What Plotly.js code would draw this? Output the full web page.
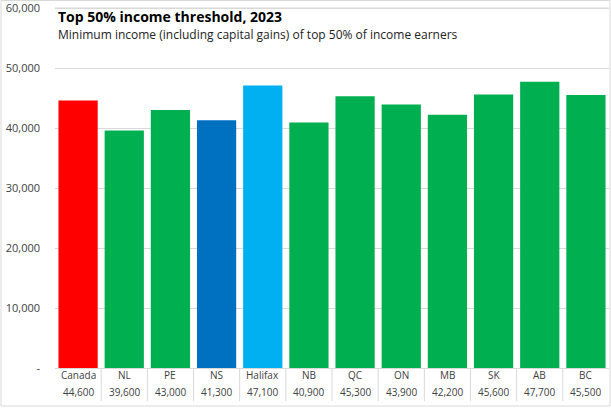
<!DOCTYPE html>
<html>
<head>
<meta charset="utf-8">
<script src="https://cdn.plot.ly/plotly-3.0.1.min.js"></script>
<style>
html,body{margin:0;padding:0;background:#fff;}
#chart{width:611px;height:408px;}
</style>
</head>
<body>
<div id="chart"></div>
<script>
const categories = ['Canada','NL','PE','NS','Halifax','NB','QC','ON','MB','SK','AB','BC'];
const values = [44600,39600,43000,41300,47100,40900,45300,43900,42200,45600,47700,45500];
const barColors = ['#ff0000','#00b050','#00b050','#0070c0','#00b0f0','#00b050','#00b050','#00b050','#00b050','#00b050','#00b050','#00b050'];
const yTickVals = [0,10000,20000,30000,40000,50000,60000];
const yTickText = ['-','10,000','20,000','30,000','40,000','50,000','60,000'];
const titleText = 'Top 50% income threshold, 2023';
const subtitleText = 'Minimum income (including capital gains) of top 50% of income earners';

const FONT = 'Open Sans, Noto Sans, sans-serif';
const W = 611, H = 408;
const m = {l:55, r:2, t:2, b:40};
const pw = W - m.l - m.r, ph = H - m.t - m.b;
const py = (px) => (H - m.b - px) / ph;   // pixel y -> paper y
const pxX = (px) => (px - m.l) / pw;      // pixel x -> paper x

const annotations = [];
categories.forEach((c, i) => {
  annotations.push({x: i, y: py(375), xref: 'x', yref: 'paper', text: c, showarrow: false,
    xanchor: 'center', yanchor: 'middle', font: {family: FONT, size: 10, color: '#404040'}});
  annotations.push({x: i, y: py(392), xref: 'x', yref: 'paper', text: values[i].toLocaleString('en-US'), showarrow: false,
    xanchor: 'center', yanchor: 'middle', font: {family: FONT, size: 10, color: '#404040'}});
});
annotations.push({x: pxX(56), y: py(16), xref: 'paper', yref: 'paper', text: '<b>' + titleText + '</b>', showarrow: false,
  xanchor: 'left', yanchor: 'middle', font: {family: FONT, size: 14, color: '#000'}});
annotations.push({x: pxX(56), y: py(34), xref: 'paper', yref: 'paper', text: subtitleText, showarrow: false,
  xanchor: 'left', yanchor: 'middle', font: {family: FONT, size: 12, color: '#222'}});

const shapes = [];
for (let i = 0; i < categories.length - 1; i++) {
  shapes.push({type: 'line', xref: 'x', yref: 'paper', x0: i + 0.5, x1: i + 0.5, y0: 0, y1: py(401),
    line: {color: '#d9d9d9', width: 1}});
}
// top gridline (at the highest tick value)
const topTick = yTickVals[yTickVals.length - 1];
shapes.push({type: 'line', xref: 'x', yref: 'y', x0: -0.5, x1: categories.length - 0.5, y0: topTick, y1: topTick,
  line: {color: '#d9d9d9', width: 1}, layer: 'above'});
// outer chart border
shapes.push({type: 'rect', xref: 'paper', yref: 'paper', x0: pxX(1), x1: pxX(610), y0: py(406), y1: py(0.5),
  line: {color: '#d9d9d9', width: 1}, fillcolor: 'rgba(0,0,0,0)'});

const trace = {
  type: 'bar', x: categories, y: values,
  marker: {color: barColors, line: {width: 0}},
  hoverinfo: 'x+y'
};

const layout = {
  width: W, height: H,
  margin: m,
  paper_bgcolor: '#fff', plot_bgcolor: '#fff',
  bargap: 0.15,
  showlegend: false,
  xaxis: {type: 'category', showticklabels: false, ticks: '', showgrid: false, zeroline: false,
    showline: false, range: [-0.5, categories.length - 0.5], fixedrange: true},
  yaxis: {range: [0, 61000], tickmode: 'array', tickvals: yTickVals, ticktext: yTickText, showgrid: true,
    gridcolor: '#d9d9d9', gridwidth: 1, zeroline: true, zerolinecolor: '#d9d9d9', zerolinewidth: 1,
    showline: false, ticks: '', ticklabelstandoff: 14, ticklabeloverflow: 'allow',
    tickfont: {family: FONT, size: 11, color: '#404040'}, fixedrange: true},
  annotations: annotations,
  shapes: shapes
};

Plotly.newPlot('chart', [trace], layout, {displayModeBar: false, staticPlot: true});
</script>
</body>
</html>
